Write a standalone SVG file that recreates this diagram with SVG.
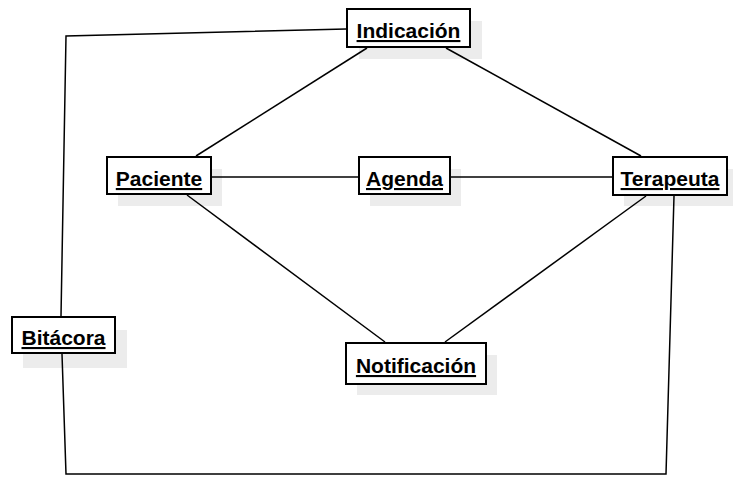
<svg xmlns="http://www.w3.org/2000/svg" width="733" height="477" viewBox="0 0 733 477">
<style>
.shadow{fill:#ececec;stroke:none}
.box{fill:#ffffff;stroke:#000000;stroke-width:2}
.lbl{font-family:"Liberation Sans",Arial,sans-serif;font-weight:bold;font-size:21px;text-decoration:underline;fill:#000000;text-anchor:middle}
.edge{fill:none;stroke:#000000;stroke-width:1.5}
</style>
<rect width="733" height="477" fill="#ffffff"/>
<g id="indicacion">
<rect class="shadow" x="359" y="21" width="123" height="38"/>
<rect class="box" x="347" y="9" width="123" height="38"/>
<text class="lbl" x="408.5" y="38">Indicación</text>
</g>
<g id="paciente">
<rect class="shadow" x="118" y="169" width="104" height="37"/>
<rect class="box" x="107" y="157" width="104" height="37"/>
<text class="lbl" x="159" y="186">Paciente</text>
</g>
<g id="agenda">
<rect class="shadow" x="370" y="169" width="91" height="37"/>
<rect class="box" x="359" y="157" width="91" height="37"/>
<text class="lbl" x="404.5" y="186">Agenda</text>
</g>
<g id="terapeuta">
<rect class="shadow" x="624" y="169" width="114" height="37"/>
<rect class="box" x="613" y="157" width="114" height="38"/>
<text class="lbl" x="670" y="186">Terapeuta</text>
</g>
<g id="bitacora">
<rect class="shadow" x="23" y="330" width="104" height="38"/>
<rect class="box" x="12" y="317" width="103" height="36"/>
<text class="lbl" x="63.5" y="345">Bitácora</text>
</g>
<g id="notificacion">
<rect class="shadow" x="357" y="355" width="140" height="40"/>
<rect class="box" x="346" y="343" width="140" height="41"/>
<text class="lbl" x="416" y="373">Notificación</text>
</g>
<g id="connectors">
<line class="edge" x1="367" y1="48" x2="196" y2="156"/>
<line class="edge" x1="446" y1="48" x2="641" y2="156"/>
<line class="edge" x1="212" y1="177" x2="358" y2="177"/>
<line class="edge" x1="451" y1="177" x2="612" y2="177"/>
<line class="edge" x1="187" y1="195" x2="385" y2="342"/>
<line class="edge" x1="646" y1="196" x2="445" y2="342"/>
<polyline class="edge" points="61,316 66,36 346,29"/>
<polyline class="edge" points="62,354 66,474 666,474 674,196"/>
</g>
</svg>
